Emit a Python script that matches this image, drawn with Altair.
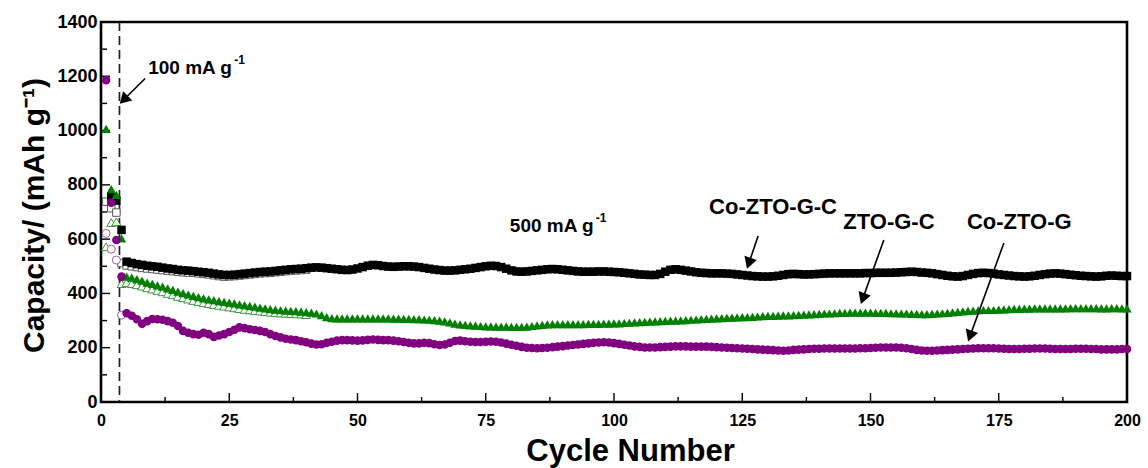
import math
import altair as alt
import pandas as pd

FONT = "Liberation Sans, Arial, sans-serif"

# ---------------- data ----------------
# Co-ZTO-G-C (black squares), filled = discharge, cycles 2..200
black_filled = [756, 742, 634,
    517, 512, 508, 505, 502, 500, 498, 495, 492, 490,
    487, 485, 484, 482, 480, 478, 476, 473, 470, 468,
    468, 469, 471, 473, 475, 477, 479, 480, 481, 483,
    485, 487, 489, 490, 491, 493, 495, 496, 495, 493,
    491, 489, 487, 486, 488, 492, 497, 502, 505, 504,
    501, 499, 498, 499, 500, 500, 499, 497, 494, 491,
    488, 486, 484, 484, 485, 487, 489, 491, 494, 497,
    500, 502, 501, 497, 491, 485, 481, 480, 481, 483,
    485, 487, 489, 490, 489, 487, 485, 483, 481, 480,
    480, 480, 481, 481, 480, 479, 478, 476, 474, 472,
    470, 469, 468, 468, 472, 480, 487, 489, 487, 484,
    481, 478, 476, 475, 474, 474, 474, 473, 472, 470,
    468, 466, 464, 463, 462, 462, 463, 465, 468, 471,
    472, 471, 470, 470, 471, 472, 473, 474, 474, 474,
    474, 474, 474, 474, 475, 475, 476, 476, 476, 476,
    477, 478, 479, 480, 479, 477, 476, 474, 471, 468,
    465, 463, 462, 464, 468, 472, 475, 476, 475, 473,
    470, 468, 466, 464, 463, 462, 463, 465, 468, 471,
    473, 474, 473, 471, 469, 467, 465, 464, 463, 462,
    463, 465, 466, 465, 464, 464]
# open (charge) markers, cycles 1..40
black_open = [738, 714, 698, 512,
    503, 500, 497, 494, 492, 490, 488, 486, 484, 482,
    480, 478, 477, 476, 474, 472, 470, 467, 464, 462,
    463, 464, 466, 468, 470, 472, 474, 475, 476, 478,
    480, 482, 484, 485, 486, 488]

# ZTO-G-C (green triangles), cycles 1..200
green_filled = [1006, 784, 763, 603,
    462, 458, 453, 447, 440, 435, 430, 425, 419, 413,
    407, 401, 396, 391, 386, 382, 378, 375, 372, 369,
    366, 363, 360, 357, 354, 351, 348, 345, 342, 340,
    338, 337, 336, 335, 333, 331, 329, 326, 320, 313,
    309, 308, 308, 308, 308, 308, 308, 308, 308, 308,
    308, 308, 307, 307, 306, 306, 305, 305, 304, 303,
    302, 300, 297, 293, 289, 286, 284, 282, 281, 280,
    279, 279, 278, 278, 278, 277, 277, 277, 278, 280,
    282, 284, 286, 287, 287, 287, 287, 287, 287, 287,
    288, 288, 288, 289, 289, 290, 290, 291, 292, 293,
    294, 295, 296, 297, 298, 299, 300, 300, 301, 302,
    303, 304, 305, 306, 307, 308, 309, 310, 311, 312,
    313, 313, 314, 315, 316, 317, 317, 318, 319, 319,
    320, 321, 322, 323, 324, 325, 326, 326, 327, 328,
    328, 329, 329, 329, 329, 329, 328, 328, 328, 327,
    327, 326, 326, 325, 325, 324, 324, 325, 326, 327,
    328, 330, 332, 334, 336, 337, 338, 339, 339, 339,
    340, 341, 342, 343, 343, 344, 344, 345, 345, 345,
    345, 345, 345, 345, 346, 346, 346, 346, 346, 346,
    345, 345, 346, 346, 345, 345]
green_open = [572, 661, 664, 436,
    440, 436, 432, 427, 421, 416, 411, 406, 400, 395,
    389, 384, 379, 374, 370, 366, 362, 359, 356, 353,
    350, 347, 344, 341, 339, 337, 335, 333, 331, 329,
    328, 327, 326, 325, 324, 322]

# Co-ZTO-G (purple circles), cycles 1..200
purple_filled = [1186, 734, 597, 462,
    327, 318, 305, 288, 298, 306, 305, 303, 298, 292,
    280, 262, 255, 250, 248, 255, 250, 240, 245, 250,
    258, 266, 275, 272, 268, 265, 262, 258, 250, 243,
    238, 233, 230, 228, 224, 220, 215, 212, 213, 218,
    222, 226, 228, 228, 227, 226, 227, 229, 230, 229,
    228, 228, 226, 224, 221, 218, 216, 216, 218, 217,
    213, 210, 212, 218, 225, 226, 224, 222, 221, 221,
    222, 223, 222, 219, 215, 211, 207, 203, 200, 199,
    198, 199, 200, 202, 204, 206, 208, 210, 212, 214,
    216, 218, 219, 220, 219, 217, 214, 211, 208, 205,
    203, 201, 201, 201, 202, 203, 204, 205, 205, 205,
    204, 204, 204, 204, 203, 202, 201, 200, 199, 198,
    197, 196, 195, 194, 193, 192, 191, 190, 189, 190,
    192, 193, 194, 195, 196, 196, 197, 197, 197, 197,
    197, 197, 197, 198, 198, 199, 200, 201, 201, 201,
    201, 200, 198, 195, 192, 190, 189, 189, 190, 191,
    192, 193, 194, 195, 196, 197, 198, 198, 198, 198,
    197, 196, 195, 195, 195, 196, 196, 197, 197, 197,
    196, 195, 195, 195, 195, 196, 196, 196, 195, 195,
    194, 194, 194, 194, 195, 195]
purple_open = [621, 563, 523, 320]

x_ticks_major = [0, 25, 50, 75, 100, 125, 150, 175, 200]
x_ticks_minor = [12.5, 37.5, 62.5, 87.5, 112.5, 137.5, 162.5, 187.5]
y_ticks_major = [0, 200, 400, 600, 800, 1000, 1200, 1400]
y_ticks_minor = [100, 300, 500, 700, 900, 1100, 1300]

rate_change_cycle = 3.6

# labels: (text, cycle, capacity)
labels = [
    ("Co-ZTO-G-C", 131.0, 718),
    ("ZTO-G-C", 153.6, 663),
    ("Co-ZTO-G", 179.0, 663),
]
rate_texts = [("100 mA g", 9.2, 1230),
              ("500 mA g", 79.7, 648)]
rate_sup = "-1"
# arrows: start (cycle, cap) -> tip (cycle, cap)
arrows = [
    (8.6, 1192, 3.6, 1098),
    (128.1, 612, 125.9, 490),
    (152.6, 597, 148.1, 360),
    (176.0, 586, 169.0, 222),
]

# ---------------- layout ----------------
W, H = 1026, 380
PX_X = W / 200.0
PX_Y = H / 1400.0


def frame(start, values):
    return pd.DataFrame({"cycle": list(range(start, start + len(values))), "cap": values})


df_bf = frame(2, black_filled)
df_bo = frame(1, black_open)
df_gf = frame(1, green_filled)
df_go = frame(1, green_open)
df_pf = frame(1, purple_filled)
df_po = frame(1, purple_open)

xs = alt.Scale(domain=[0, 200], nice=False, zero=False)
ys = alt.Scale(domain=[0, 1400], nice=False, zero=False)

xaxis = alt.Axis(values=x_ticks_major, format="d", ticks=False, domain=False, grid=False,
                 labelFlush=False, labelOverlap=False,
                 labelFont=FONT, labelFontSize=16, labelFontWeight="bold", labelColor="black",
                 labelPadding=10, title="Cycle Number", titleFont=FONT, titleFontSize=31,
                 titleFontWeight="bold", titleColor="black", titleX=529, titleY=58,
                 titleBaseline="alphabetic", titleAlign="center")
yaxis = alt.Axis(values=y_ticks_major, format="d", ticks=False, domain=False, grid=False,
                 labelFlush=False, labelOverlap=False,
                 labelFont=FONT, labelFontSize=18, labelFontWeight="bold", labelColor="black",
                 labelPadding=4, title="Capacity/ (mAh g\u207b\u00b9)", titleFont=FONT,
                 titleFontSize=30, titleFontWeight="bold", titleColor="black",
                 titleAngle=270, titleX=-58, titleY=193, titleBaseline="alphabetic",
                 titleAlign="center")

X = alt.X("cycle:Q", scale=xs, axis=xaxis)
Y = alt.Y("cap:Q", scale=ys, axis=yaxis)


def pts(df, shape, size, fill, stroke=None, sw=0):
    kw = dict(shape=shape, size=size, filled=True, fill=fill, opacity=1)
    if stroke:
        kw.update(stroke=stroke, strokeWidth=sw)
    else:
        kw.update(strokeWidth=0)
    return alt.Chart(df).mark_point(**kw).encode(x=X, y=Y)


layers = []
# inward tick marks
layers.append(alt.Chart(pd.DataFrame({"cycle": x_ticks_major})).mark_rule(color="black", strokeWidth=1.4)
              .encode(x=X, y=alt.value(H), y2=alt.value(H - 9)))
layers.append(alt.Chart(pd.DataFrame({"cycle": x_ticks_minor})).mark_rule(color="black", strokeWidth=1.4)
              .encode(x=X, y=alt.value(H), y2=alt.value(H - 5)))
layers.append(alt.Chart(pd.DataFrame({"cap": y_ticks_major})).mark_rule(color="black", strokeWidth=1.4)
              .encode(y=Y, x=alt.value(0), x2=alt.value(9)))
layers.append(alt.Chart(pd.DataFrame({"cap": y_ticks_minor})).mark_rule(color="black", strokeWidth=1.4)
              .encode(y=Y, x=alt.value(0), x2=alt.value(6)))

# dashed line at the rate change
layers.append(alt.Chart(pd.DataFrame({"cycle": [rate_change_cycle]}))
              .mark_rule(color="#222", strokeWidth=1.7, strokeDash=[9, 5])
              .encode(x=X))

# open markers (charge)
layers.append(pts(df_bo, "square", 56, "white", "#555555", 1))
layers.append(pts(df_go, "triangle-up", 80, "white", "#3d9a3d", 1))
layers.append(pts(df_po, "circle", 64, "white", "#a45aa4", 1))
# filled markers (discharge)
layers.append(pts(df_bf, "square", 72, "#000000"))
layers.append(pts(df_gf, "triangle-up", 90, "#008000"))
layers.append(pts(df_pf, "circle", 74, "#800080"))

# arrows
arr_rows = []
head_rows = []
for c0, v0, c1, v1 in arrows:
    dx = (c1 - c0) * PX_X
    dy = -(v1 - v0) * PX_Y  # screen down positive
    L = math.hypot(dx, dy)
    ux, uy = dx / L, dy / L
    ang = math.degrees(math.atan2(dx, -dy)) % 360
    back = 6.0
    hc = c1 - ux * back / PX_X
    hv = v1 + uy * back / PX_Y
    arr_rows.append({"cycle": c0, "cap": v0, "cycle2": hc, "cap2": hv})
    head_rows.append({"cycle": hc, "cap": hv, "ang": ang})

layers.append(alt.Chart(pd.DataFrame(arr_rows)).mark_rule(color="black", strokeWidth=1.6)
              .encode(x=X, y=Y, x2="cycle2:Q", y2="cap2:Q"))
layers.append(alt.Chart(pd.DataFrame(head_rows))
              .mark_point(shape="triangle-up", filled=True, fill="black", size=170, strokeWidth=0, opacity=1)
              .encode(x=X, y=Y, angle=alt.Angle("ang:Q", scale=None)))

# series labels
lab_df = pd.DataFrame([{"t": t, "cycle": c, "cap": v} for t, c, v in labels])
layers.append(alt.Chart(lab_df).mark_text(font=FONT, fontSize=22, fontWeight="bold",
                                          color="black", align="center", baseline="middle")
              .encode(x=X, y=Y, text="t:N"))

# rate texts with superscript
rt_main = pd.DataFrame([{"t": r[0], "cycle": r[1], "cap": r[2], "s": rate_sup} for r in rate_texts])
layers.append(alt.Chart(rt_main).mark_text(font=FONT, fontSize=19, fontWeight="bold",
                                           color="black", align="left", baseline="middle")
              .encode(x=X, y=Y, text="t:N"))
layers.append(alt.Chart(rt_main).mark_text(font=FONT, fontSize=12, fontWeight="bold",
                                           color="black", align="left", baseline="middle",
                                           dx=86, dy=-8)
              .encode(x=X, y=Y, text="s:N"))

chart = alt.layer(*layers).properties(
    width=W, height=H,
    autosize=alt.AutoSizeParams(type="none"),
    padding={"left": 101, "top": 22, "right": 21, "bottom": 66},
    background="white",
).configure_view(stroke="black", strokeWidth=2.6)

chart.save("out.html", embed_options={"renderer": "svg", "actions": False})
